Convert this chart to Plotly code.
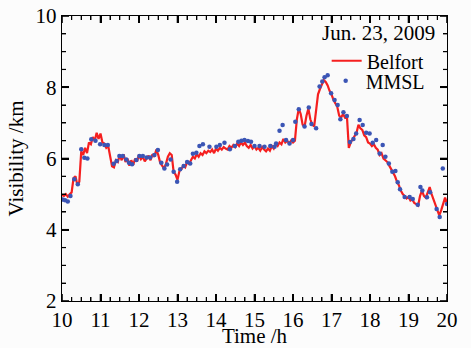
import numpy as np
import plotly.graph_objects as go

# Belfort visibility (km), every 0.05 h from 10.00 to 20.00
belfort_hours = [round(10 + 0.05 * i, 2) for i in range(201)]
belfort_vis = [
    4.97, 4.95, 5.00, 4.93, 5.00, 5.05, 5.45, 5.50, 5.25, 5.35,
    6.20, 6.10, 6.30, 6.15, 6.45, 6.40, 6.60, 6.50, 6.72, 6.55,
    6.70, 6.45, 6.42, 6.30, 6.35, 6.00, 5.78, 5.75, 5.95, 5.90,
    6.10, 5.95, 6.12, 5.90, 6.00, 5.80, 5.95, 5.82, 6.00, 5.92,
    6.10, 5.98, 6.05, 5.92, 6.00, 6.08, 5.95, 6.12, 6.05, 6.25,
    6.10, 5.88, 5.80, 5.72, 5.85, 6.05, 6.15, 6.10, 5.62, 5.55,
    5.40, 5.65, 5.70, 5.80, 5.75, 5.90, 5.85, 5.95, 6.05, 6.00,
    6.12, 6.05, 6.15, 6.10, 6.20, 6.15, 6.22, 6.18, 6.25, 6.15,
    6.28, 6.22, 6.30, 6.25, 6.32, 6.28, 6.25, 6.35, 6.30, 6.38,
    6.32, 6.42, 6.35, 6.45, 6.38, 6.45, 6.35, 6.30, 6.38, 6.28,
    6.35, 6.25, 6.30, 6.22, 6.32, 6.25, 6.20, 6.28, 6.22, 6.35,
    6.28, 6.40, 6.35, 6.45, 6.40, 6.55, 6.45, 6.50, 6.42, 6.50,
    6.45, 6.50, 7.10, 7.40, 7.25, 6.95, 6.90, 7.20, 7.40, 7.10,
    6.95, 6.90, 7.30, 7.80, 7.95, 8.10, 8.20, 8.15, 8.05, 7.90,
    7.80, 7.65, 7.55, 7.45, 7.20, 7.15, 7.25, 7.15, 7.20, 6.30,
    6.45, 6.55, 6.65, 6.72, 6.95, 6.85, 6.80, 6.65, 6.60, 6.45,
    6.42, 6.35, 6.40, 6.30, 6.25, 6.10, 6.15, 6.00, 5.95, 5.90,
    5.80, 5.70, 5.60, 5.50, 5.35, 5.25, 5.10, 5.00, 4.95, 4.88,
    4.92, 4.82, 4.85, 4.75, 4.72, 4.68, 4.95, 5.10, 4.95, 4.90,
    5.05, 5.20, 5.00, 4.85, 4.70, 4.55, 4.40, 4.55, 4.75, 4.90,
    4.75,
]

# MMSL visibility (km)
mmsl_hours = [
    10.02, 10.08, 10.15, 10.22, 10.32, 10.41, 10.50, 10.58, 10.66, 10.76,
    10.87, 10.99, 11.10, 11.19, 11.34, 11.42, 11.49, 11.58, 11.67, 11.74,
    11.82, 11.93, 12.01, 12.10, 12.20, 12.29, 12.40, 12.49, 12.58, 12.66,
    12.73, 12.82, 12.90, 12.99, 13.07, 13.16, 13.25, 13.33, 13.40, 13.49,
    13.57, 13.66, 13.83, 14.01, 14.10, 14.22, 14.36, 14.49, 14.58, 14.66,
    14.74, 14.83, 14.91, 15.00, 15.13, 15.26, 15.41, 15.52, 15.56, 15.65,
    15.73, 15.82, 15.91, 16.00, 16.06, 16.15, 16.30, 16.41, 16.48, 16.60,
    16.69, 16.76, 16.82, 16.90, 16.99, 17.08, 17.16, 17.23, 17.31, 17.40,
    17.48, 17.57, 17.64, 17.73, 17.81, 17.90, 17.99, 18.07, 18.16, 18.25,
    18.33, 18.40, 18.49, 18.58, 18.66, 18.72, 18.78, 18.90, 19.03, 19.11,
    19.24, 19.31, 19.36, 19.48, 19.56, 19.73, 19.81, 19.89, 20.00,
]
mmsl_vis = [
    4.85, 4.83, 4.79, 4.95, 5.42, 5.28, 6.26, 6.02, 6.00, 6.54,
    6.50, 6.40, 6.38, 6.38, 5.85, 5.93, 6.07, 6.07, 5.97, 5.88,
    5.84, 5.96, 6.07, 6.07, 6.03, 6.03, 6.10, 6.24, 5.88, 5.72,
    5.83, 5.97, 5.63, 5.35, 5.70, 5.79, 5.90, 5.86, 6.13, 6.16,
    6.35, 6.40, 6.33, 6.33, 6.38, 6.44, 6.26, 6.35, 6.47, 6.50,
    6.52, 6.49, 6.47, 6.35, 6.35, 6.33, 6.35, 6.33, 6.42, 6.78,
    6.94, 6.52, 6.42, 6.52, 7.03, 7.38, 6.90, 7.43, 6.97, 6.85,
    8.02, 8.16, 8.28, 8.34, 7.83, 7.64, 7.50, 7.10, 7.30, 7.19,
    6.46, 6.55, 6.70, 7.08, 6.94, 6.72, 6.70, 6.44, 6.52, 6.14,
    6.38, 6.05, 5.86, 5.63, 5.65, 5.33, 5.14, 4.92, 4.92, 4.86,
    4.70, 5.20, 5.10, 4.91, 5.05, 4.58, 4.36, 5.72, 4.72,
]

x_ticks = list(range(10, 21))
y_ticks = [2, 4, 6, 8, 10]
x_minor_step = 0.25
y_minor_step = 0.5

FONT = "Liberation Serif"
X_RANGE = [x_ticks[0], x_ticks[-1]]
Y_RANGE = [y_ticks[0], y_ticks[-1]]

W, H = 471, 348
M = dict(l=62, r=24, t=16, b=47)
PLOT_W = W - M["l"] - M["r"]
PLOT_H = H - M["t"] - M["b"]
MAJOR_LEN, MINOR_LEN = 7, 4

fig = go.Figure()
fig.add_trace(go.Scatter(
    x=belfort_hours, y=belfort_vis, mode="lines", name="Belfort",
    line=dict(color="#f51f1f", width=2.2), legend="legend",
))
fig.add_trace(go.Scatter(
    x=mmsl_hours, y=mmsl_vis, mode="markers", name="MMSL",
    marker=dict(color="#3b55b5", size=4.5), legend="legend2",
))

main_axis = dict(
    showline=True, linecolor="black", linewidth=1.4, mirror="allticks",
    ticks="inside", ticklen=MAJOR_LEN, tickwidth=1.6, tickcolor="black",
    showgrid=False, zeroline=False, automargin=False,
    tickfont=dict(family=FONT, size=21, color="black"),
)
fig.update_layout(
    xaxis=dict(
        range=X_RANGE, tickmode="array", tickvals=x_ticks,
        minor=dict(ticks="inside", dtick=x_minor_step, tick0=x_ticks[0], ticklen=MINOR_LEN,
                   tickwidth=1.2, tickcolor="black", showgrid=False),
        title=dict(text="Time /h", font=dict(family=FONT, size=21, color="black"), standoff=0),
        **main_axis,
    ),
    yaxis=dict(
        range=Y_RANGE, tickmode="array", tickvals=y_ticks,
        minor=dict(ticks="inside", dtick=y_minor_step, tick0=y_ticks[0], ticklen=MINOR_LEN,
                   tickwidth=1.2, tickcolor="black", showgrid=False),
        title=dict(text="Visibility /km", font=dict(family=FONT, size=21, color="black"), standoff=6),
        **main_axis,
    ),
)

# inward tick marks on all four sides of the frame, placed via the axis scales
shapes = []
x_all = np.arange(X_RANGE[0], X_RANGE[1] + 1e-9, x_minor_step)
y_all = np.arange(Y_RANGE[0], Y_RANGE[1] + 1e-9, y_minor_step)
for xv in x_all:
    is_major = any(abs(xv - t) < 1e-9 for t in x_ticks)
    ln = (MAJOR_LEN if is_major else MINOR_LEN) / PLOT_H
    wd = 1.6 if is_major else 1.2
    for y0, y1 in ((0, ln), (1, 1 - ln)):
        shapes.append(dict(type="line", xref="x", yref="paper", x0=float(xv), x1=float(xv),
                           y0=y0, y1=y1, line=dict(color="black", width=wd), layer="above"))
for yv in y_all:
    is_major = any(abs(yv - t) < 1e-9 for t in y_ticks)
    ln = (MAJOR_LEN if is_major else MINOR_LEN) / PLOT_W
    wd = 1.6 if is_major else 1.2
    for x0, x1 in ((0, ln), (1, 1 - ln)):
        shapes.append(dict(type="line", xref="paper", yref="y", x0=x0, x1=x1,
                           y0=float(yv), y1=float(yv), line=dict(color="black", width=wd), layer="above"))

fig.add_annotation(
    text="Jun. 23, 2009", xref="paper", yref="paper", x=0.975, y=0.99,
    xanchor="right", yanchor="top", showarrow=False,
    font=dict(family=FONT, size=21, color="black"),
)

legend_common = dict(
    xanchor="right", yanchor="middle", bgcolor="rgba(0,0,0,0)",
    font=dict(family=FONT, size=20, color="black"), borderwidth=0,
)

fig.update_layout(
    width=W, height=H,
    margin=dict(**M, autoexpand=False),
    paper_bgcolor="#fcfcfc", plot_bgcolor="#fafafa",
    shapes=shapes,
    showlegend=True,
    legend=dict(x=0.955, y=0.843, **legend_common),
    legend2=dict(x=0.955, y=0.773, **legend_common),
)

fig.write_html(
    "out.html",
    config={"displayModeBar": False},
    post_script="document.body.style.margin='0px';document.body.style.background='#fcfcfc';",
)
